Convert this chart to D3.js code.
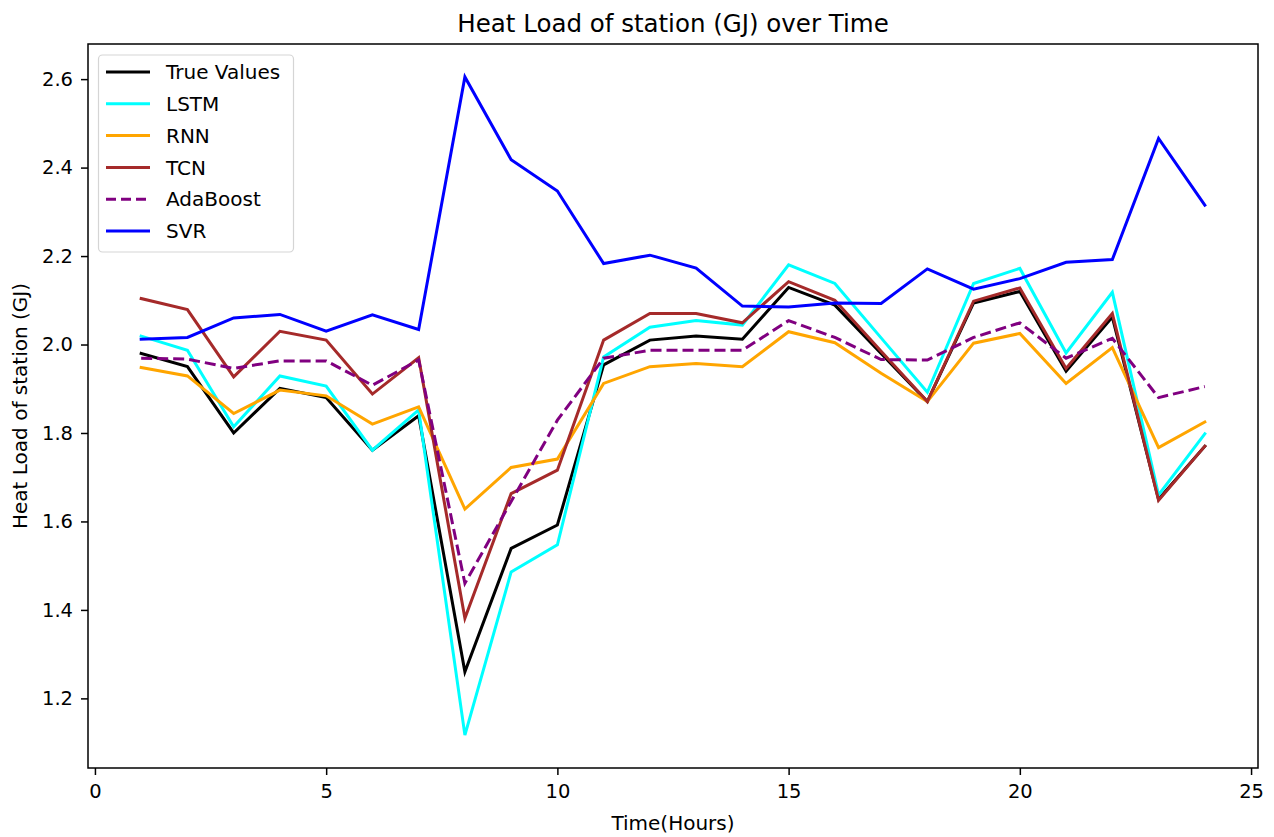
<!DOCTYPE html>
<html>
<head>
<meta charset="utf-8">
<script src="https://cdn.jsdelivr.net/npm/d3@7"></script>
<style>
  html, body { margin: 0; padding: 0; background: #fff; }
  svg { display: block; font-family: "DejaVu Sans", sans-serif; }
</style>
</head>
<body>
<svg id="chart" width="1274" height="837"></svg>
<script>
const hours = [1,2,3,4,5,6,7,8,9,10,11,12,13,14,15,16,17,18,19,20,21,22,23,24];
const trueValues = [1.980,1.950,1.800,1.901,1.880,1.761,1.839,1.260,1.539,1.592,1.954,2.010,2.019,2.012,2.129,2.089,1.980,1.871,2.094,2.120,1.940,2.062,1.650,1.770];
const lstm = [2.019,1.987,1.814,1.929,1.906,1.761,1.852,1.117,1.486,1.547,1.972,2.039,2.054,2.044,2.180,2.138,2.015,1.892,2.138,2.172,1.981,2.118,1.660,1.798];
const rnn = [1.948,1.929,1.844,1.897,1.884,1.820,1.859,1.628,1.722,1.741,1.912,1.950,1.957,1.950,2.029,2.004,1.935,1.871,2.003,2.025,1.912,1.993,1.767,1.825];
const tcn = [2.104,2.079,1.927,2.030,2.010,1.888,1.970,1.381,1.663,1.716,2.010,2.070,2.070,2.049,2.142,2.100,1.985,1.871,2.098,2.128,1.946,2.070,1.648,1.770];
const adaboost = [1.969,1.967,1.946,1.963,1.963,1.908,1.965,1.460,1.645,1.829,1.969,1.987,1.987,1.987,2.054,2.016,1.966,1.965,2.016,2.049,1.969,2.014,1.880,1.905];
const svr = [2.012,2.016,2.060,2.068,2.030,2.067,2.034,2.605,2.418,2.347,2.183,2.202,2.173,2.087,2.085,2.094,2.093,2.171,2.125,2.149,2.186,2.192,2.466,2.315];
const xTicks = [0,5,10,15,20,25];
const yTicks = [1.2,1.4,1.6,1.8,2.0,2.2,2.4,2.6];

const seriesNames = ["True Values","LSTM","RNN","TCN","AdaBoost","SVR"];
const seriesData = [trueValues, lstm, rnn, tcn, adaboost, svr];
const seriesColors = ["#000000","#00ffff","#ffa500","#a52a2a","#800080","#0000ff"];
const seriesDash = [null,null,null,null,"11,5",null];

const svg = d3.select("#chart");
const L = 88, R = 1258, T = 44, B = 768;

const allVals = seriesData.flat();
const yMin = d3.min(allVals), yMax = d3.max(allVals);
const yPad = (yMax - yMin) * 0.05;
const xPad = (24 - 1) * 0.05;

const x = d3.scaleLinear().domain([1 - xPad, 24 + xPad]).range([L, R]);
const y = d3.scaleLinear().domain([yMin - yPad, yMax + yPad]).range([B, T]);

const line = d3.line().x((d, i) => x(hours[i])).y(d => y(d));

const plot = svg.append("g");
seriesData.forEach((s, k) => {
  plot.append("path")
    .datum(s)
    .attr("fill", "none")
    .attr("stroke", seriesColors[k])
    .attr("stroke-width", 3)
    .attr("stroke-linejoin", "miter")
    .attr("stroke-linecap", seriesDash[k] ? "butt" : "square")
    .attr("stroke-dasharray", seriesDash[k])
    .attr("d", line);
});

// axes
const xAxis = d3.axisBottom(x).tickValues(xTicks).tickFormat(d3.format("d")).tickSize(7).tickSizeOuter(0).tickPadding(9);
const yAxis = d3.axisLeft(y).tickValues(yTicks).tickFormat(d3.format(".1f")).tickSize(7).tickSizeOuter(0).tickPadding(8);

const gx = svg.append("g").attr("transform", `translate(0,${B})`).call(xAxis);
const gy = svg.append("g").attr("transform", `translate(${L},0)`).call(yAxis);
[gx, gy].forEach(g => {
  g.select(".domain").remove();
  g.selectAll(".tick line").attr("stroke", "#000").attr("stroke-width", 1.5);
  g.selectAll(".tick text").attr("fill", "#000").style("font-size", "19.5px").style("font-family", "DejaVu Sans, sans-serif");
});

// frame
svg.append("rect").attr("x", L).attr("y", T).attr("width", R - L).attr("height", B - T)
  .attr("fill", "none").attr("stroke", "#000").attr("stroke-width", 1.5);

// title & labels
svg.append("text").attr("x", (L + R) / 2).attr("y", 32).attr("text-anchor", "middle")
  .style("font-size", "24.5px").attr("fill", "#000").text("Heat Load of station (GJ) over Time");
svg.append("text").attr("x", (L + R) / 2).attr("y", 830).attr("text-anchor", "middle")
  .style("font-size", "20px").attr("fill", "#000").text("Time(Hours)");
svg.append("text").attr("transform", `translate(27,${(T + B) / 2}) rotate(-90)`).attr("text-anchor", "middle")
  .style("font-size", "20px").attr("fill", "#000").text("Heat Load of station (GJ)");

// legend
const lg = svg.append("g");
lg.append("rect").attr("x", 98.5).attr("y", 55).attr("width", 195).attr("height", 197)
  .attr("rx", 4).attr("fill", "#fff").attr("fill-opacity", 0.8).attr("stroke", "#d5d5d5").attr("stroke-width", 1.2);
seriesNames.forEach((name, k) => {
  const yy = 72 + k * 31.8;
  lg.append("line").attr("x1", 106).attr("x2", 150).attr("y1", yy).attr("y2", yy)
    .attr("stroke", seriesColors[k]).attr("stroke-width", 3)
    .attr("stroke-dasharray", seriesDash[k] ? "10,5" : null);
  lg.append("text").attr("x", 166).attr("y", yy).attr("dy", "0.36em")
    .style("font-size", "20px").attr("fill", "#000").text(name);
});
</script>
</body>
</html>
